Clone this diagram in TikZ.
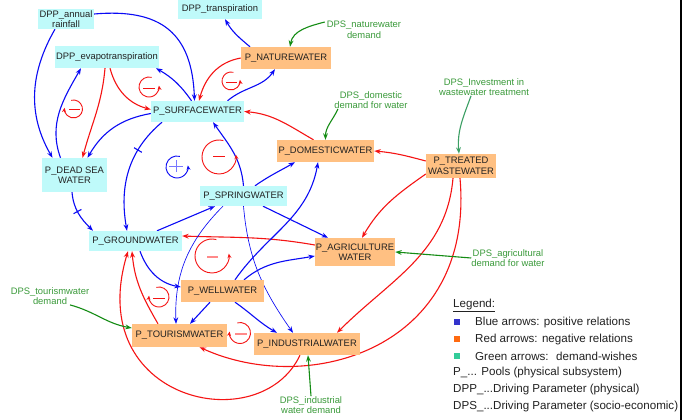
\documentclass[tikz,border=0pt]{standalone}
\usepackage{fontspec}
\setmainfont{Liberation Sans}
\usetikzlibrary{arrows.meta,calc}
\pgfdeclarelayer{back}
\pgfsetlayers{back,main}
\definecolor{poolcyan}{HTML}{BFFAFA}
\definecolor{poolorange}{HTML}{FFC082}
\definecolor{posblue}{HTML}{0A0AF5}
\definecolor{negred}{HTML}{F51414}
\definecolor{wishgreen}{HTML}{148C14}
\definecolor{wishteal}{HTML}{3C9F64}
\definecolor{labgreen}{HTML}{3A9A3A}
\definecolor{palered}{HTML}{FF8A8A}
\definecolor{paleblue}{HTML}{7878FF}
\definecolor{inktext}{HTML}{222222}
\definecolor{legblue}{HTML}{3333CC}
\definecolor{legorange}{HTML}{FF6A10}
\definecolor{legteal}{HTML}{33CC99}
\begin{document}
\begin{tikzpicture}[x=1pt,y=-1pt,
  font=\fontsize{9.4}{10.5}\selectfont,
  box/.style={text=inktext, inner sep=0pt, align=center},
  phys/.style={box, fill=poolcyan},
  socio/.style={box, fill=poolorange},
  wish/.style={text=labgreen, align=center, inner sep=0pt},
  legtext/.style={text=inktext, inner sep=0pt, anchor=west, font=\fontsize{11.6}{13}\selectfont},
  legsquare/.style={minimum size=6pt, inner sep=0pt},
  arrowtip/.style={-{Stealth[length=6.5pt,width=4.8pt]}},
  plusarrow/.style={arrowtip, draw=posblue, line width=1.1pt},
  plusthin/.style={plusarrow, line width=0.65pt},
  minusarrow/.style={arrowtip, draw=negred, line width=1.1pt},
  wisharrow/.style={arrowtip, draw=wishgreen, line width=1.1pt},
  delaybar/.style={sloped, draw=posblue, line width=1.1pt, minimum height=9pt, minimum width=0pt, inner sep=0pt},
  loopline/.style={line width=0.9pt, -{Stealth[length=4.5pt,width=4pt]}},
]
\begin{pgfonlayer}{back}
  \fill[white] (0,0) rectangle (683,420);
\end{pgfonlayer}
\useasboundingbox (0,0) rectangle (683,420);

% physical pools and driving parameters
\node[phys, minimum width=56, minimum height=20] (rain) at (66,19) {DPP\_annual\\rainfall};
\node[phys, minimum width=84, minimum height=20] (trans) at (220,9) {DPP\_transpiration};
\node[phys, minimum width=104, minimum height=22] (evapo) at (107,57) {DPP\_evapotranspiration};
\node[phys, minimum width=93, minimum height=21] (surface) at (197.5,111.5) {P\_SURFACEWATER};
\node[phys, minimum width=65, minimum height=34] (deadsea) at (74.5,175) {P\_DEAD SEA\\WATER};
\node[phys, minimum width=93, minimum height=20] (ground) at (135.5,241) {P\_GROUNDWATER};
\node[phys, minimum width=87, minimum height=20] (spring) at (243.5,196) {P\_SPRINGWATER};

% socio-economic pools
\node[socio, minimum width=90, minimum height=22] (nature) at (286,58) {P\_NATUREWATER};
\node[socio, minimum width=97, minimum height=22] (domestic) at (325.5,151) {P\_DOMESTICWATER};
\node[socio, minimum width=70, minimum height=24] (treated) at (461,166) {P\_TREATED\\WASTEWATER};
\node[socio, minimum width=80, minimum height=28] (agri) at (355,252) {P\_AGRICULTURE\\WATER};
\node[socio, minimum width=83, minimum height=22] (well) at (222.5,291) {P\_WELLWATER};
\node[socio, minimum width=95, minimum height=23] (tourism) at (179.5,335.5) {P\_TOURISMWATER};
\node[socio, minimum width=106, minimum height=22] (industrial) at (307,344) {P\_INDUSTRIALWATER};

% demand-wish parameters
\node[wish] (natdem) at (364,30) {DPS\_naturewater\\demand};
\node[wish] (domdem) at (371,100) {DPS\_domestic\\demand for water};
\node[wish] (invest) at (484,87) {DPS\_Investment in\\wastewater treatment};
\node[wish] (agrdem) at (508,258) {DPS\_agricultural\\demand for water};
\node[wish] (tourdem) at (50,296) {DPS\_tourismwater\\demand};
\node[wish] (inddem) at (311,405) {DPS\_industrial\\water demand};

\begin{pgfonlayer}{back}
  % rainfall
  \draw[plusarrow] ([yshift=5pt]rain.east) to[out=5,in=92,looseness=1.3] ([xshift=-3pt]surface.north);
  \draw[plusarrow] ([xshift=-11pt]rain.south) to[out=240,in=120] ([xshift=-22pt]deadsea.north);
  % dead sea, evapotranspiration, surface water
  \draw[plusarrow] ([xshift=-14pt]deadsea.north) to[out=110,in=240] ([xshift=-26pt]evapo.south);
  \draw[minusarrow] ([xshift=-2pt]evapo.south) to[out=265,in=75] ([xshift=8pt]deadsea.north);
  \draw[minusarrow] ([xshift=3pt]evapo.south) to[out=285,in=165] ([yshift=2pt]surface.west);
  \draw[plusarrow] ([yshift=-2pt]surface.west) to[out=190,in=60] ([xshift=13pt]deadsea.north);
  \draw[plusarrow] ([xshift=-6pt]surface.north) to[out=125,in=-30] ([xshift=49pt]evapo.south);
  % nature water
  \draw[plusarrow] ([xshift=-36pt]nature.north) to[out=140,in=-60] ([xshift=5pt]trans.south);
  \draw[plusarrow] ([xshift=30pt]surface.north) to[out=40,in=235] ([xshift=-11pt]nature.south);
  \draw[minusarrow] (nature.west) to[out=190,in=75] ([xshift=1.5pt]surface.north);
  \draw[wisharrow] ([xshift=-2pt,yshift=8pt]natdem.west) to[out=195,in=80] ([xshift=4pt]nature.north);
  % domestic water
  \draw[wisharrow] ([xshift=-33pt]domdem.south) to[out=245,in=90] (domestic.north);
  \draw[minusarrow] ([xshift=-12pt]domestic.north) to[out=150,in=-5] (surface.east);
  % treated wastewater
  \draw[wisharrow, draw=wishteal] ([xshift=-13pt]invest.south) to[out=250,in=95] ([xshift=-2pt]treated.north);
  \draw[minusarrow] ([yshift=5pt]treated.west) to[out=165,in=-5] (domestic.east);
  \draw[minusarrow] ([yshift=-8pt]treated.west) to[out=215,in=60] ([xshift=7pt]agri.north);
  \draw[minusarrow] ([xshift=-8pt]treated.south) to[out=265,in=45] ([xshift=30pt]industrial.north);
  \draw[minusarrow] ([xshift=-1pt]treated.south) .. controls +(15,170) and +(110,50) .. ([xshift=20pt]tourism.south);
  % back into the groundwater
  \draw[minusarrow] ([xshift=-7pt]industrial.south) .. controls +(-40,85) and +(-45,150) .. ([xshift=-7.5pt]ground.south);
  \draw[minusarrow] ([xshift=-21.5pt]tourism.north) to[out=120,in=275] ([xshift=-3.5pt]ground.south);
  \draw[minusarrow] ([yshift=7pt]agri.west) to[out=170,in=-2] ([yshift=5pt]ground.east);
  \draw[plusarrow] ([xshift=-2.5pt]deadsea.south) to[out=275,in=135] node[delaybar, pos=0.45] (bardead) {} ([xshift=-42.5pt]ground.north);
  \draw[plusarrow] ([xshift=-35.5pt]surface.south) to[out=220,in=100] node[delaybar, pos=0.3] (barsurf) {} ([xshift=-8.5pt]ground.north);
  % springs
  \draw[plusarrow] ([xshift=21.5pt]ground.north) -- ([xshift=-28.5pt]spring.south);
  \draw[plusarrow] (spring.north) to[out=95,in=-55] ([xshift=15.5pt]surface.south);
  \draw[plusthin] (spring.south) to[out=-85,in=125] ([xshift=-14pt]industrial.north);
  \draw[plusthin] ([xshift=-20.5pt]spring.south) to[out=225,in=92] ([xshift=-3.5pt]tourism.north);
  \draw[plusarrow] ([xshift=11.5pt]spring.north) to[out=35,in=210] ([xshift=-30.5pt]domestic.south);
  \draw[plusarrow] ([xshift=19.5pt]spring.south) -- ([xshift=-27pt]agri.north);
  % wells
  \draw[plusarrow] ([xshift=4.5pt]ground.south) to[out=-70,in=170] ([yshift=4pt]well.west);
  \draw[plusarrow] ([xshift=12.5pt]well.north) to[out=55,in=260] ([xshift=-7.5pt]domestic.south);
  \draw[plusarrow] ([xshift=21.5pt]well.north) to[out=40,in=190] ([yshift=-4pt]agri.west);
  \draw[plusarrow] ([xshift=-12.5pt]well.south) -- ([xshift=10.5pt]tourism.north);
  \draw[plusarrow] ([xshift=12.5pt]well.south) to[out=-35,in=150] ([xshift=-30pt]industrial.north);
  % remaining demand-wishes
  \draw[wisharrow] (agrdem.west) -- (agri.east);
  \draw[wisharrow] ([xshift=20pt]tourdem.south) to[out=-15,in=170] ([yshift=7.5pt]tourism.west);
  \draw[wisharrow] (inddem.north) -- ([xshift=1pt]industrial.south);
\end{pgfonlayer}

% feedback loop markers
\draw[loopline, negred] (73.5,109) ++(105:9pt) arc[start angle=105, end angle=-188, radius=9pt];
\draw[negred, line width=0.9pt] (69,109) -- (80,109);
\draw[loopline, negred] (149,87) ++(75:10pt) arc[start angle=75, end angle=368, radius=10pt];
\draw[negred, line width=0.9pt] (143,88) -- (155,88);
\draw[loopline, negred] (231,81) ++(75:9pt) arc[start angle=75, end angle=368, radius=9pt];
\draw[negred, line width=0.9pt] (226,82) -- (237,82);
\draw[loopline, posblue] (177,167) ++(75:11pt) arc[start angle=75, end angle=368, radius=11pt];
\draw[paleblue, line width=0.9pt] (169,166) -- (183,166) (176,160) -- (176,172);
\draw[loopline, negred] (219,157) ++(75:17pt) arc[start angle=75, end angle=368, radius=17pt];
\draw[negred, line width=0.9pt] (213,156) -- (225,156);
\draw[loopline, negred] (212,256) ++(75:17pt) arc[start angle=75, end angle=368, radius=17pt];
\draw[palered, line width=1.2pt] (207,257) -- (218,257);
\draw[loopline, negred] (159,297) ++(105:10pt) arc[start angle=105, end angle=-188, radius=10pt];
\draw[negred, line width=0.9pt] (153,298) -- (165,298);
\draw[loopline, negred] (240,333) ++(105:10.5pt) arc[start angle=105, end angle=-188, radius=10.5pt];
\draw[palered, line width=1.2pt] (235,334) -- (247,334);

% legend
\node[legtext] (leghead) at (453,305) {\underline{Legend:}};
\node[legsquare, fill=legblue] (sqblue) at (457,322) {};
\node[legtext] (legblue) at (475,322) {Blue arrows: positive relations};
\node[legsquare, fill=legorange] (sqred) at (457,339) {};
\node[legtext] (legred) at (475,339) {Red arrows: negative relations};
\node[legsquare, fill=legteal] (sqgreen) at (457,356) {};
\node[legtext] (leggreen) at (475,356) {Green arrows:~ demand-wishes};
\node[legtext] (legpools) at (453,372) {P\_... Pools (physical subsystem)};
\node[legtext] (legdpp) at (453,389) {DPP\_...Driving Parameter (physical)};
\node[legtext] (legdps) at (453,406) {DPS\_...Driving Parameter (socio-economic)};

% frame edge on the right
\draw[line width=1.5pt] (681,0) -- (681,420);
\end{tikzpicture}
\end{document}
